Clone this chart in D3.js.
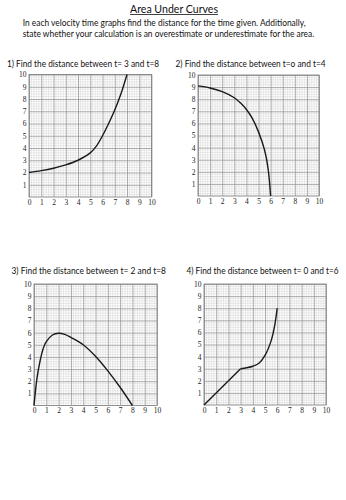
<!DOCTYPE html>
<html><head><meta charset="utf-8">
<script src="https://cdn.jsdelivr.net/npm/d3@7"></script>
<style>
html,body{margin:0;padding:0;background:#fff;}
svg{display:block;}
</style>
</head><body>
<svg id="c" width="346" height="500"></svg>
<script>
// ---- data ----
const titleText = "Area Under Curves";
const introLines = [
  "In each velocity time graphs find the distance for the time given. Additionally,",
  "state whether your calculation is an overestimate or underestimate for the area."
];
const questions = [
  "1) Find the distance between t= 3 and t=8",
  "2) Find the distance between t=o and t=4",
  "3) Find the distance between t= 2 and t=8",
  "4) Find the distance between t= 0 and t=6"
];
const xTicks = [0,1,2,3,4,5,6,7,8,9,10];
const yTicks = [1,2,3,4,5,6,7,8,9,10];

const curve1T = [0, 1, 2, 3, 4, 5, 5.5, 6, 6.5, 7, 7.5, 8];
const curve1V = [2, 2.15, 2.35, 2.62, 3.0, 3.6, 4.15, 5.0, 6.0, 7.1, 8.4, 10];

const curve2T = [0, 1, 2, 3, 3.5, 4, 4.5, 5, 5.5, 5.8, 6];
const curve2V = [9.1, 8.93, 8.62, 8.12, 7.7, 7.15, 6.4, 5.3, 3.8, 2.2, 0];

const curve3T = [0, 0.25, 0.5, 0.75, 1, 1.5, 2, 2.5, 3, 4, 5, 6, 7, 8];
const curve3V = [0, 2.3, 3.7, 4.7, 5.25, 5.8, 5.95, 5.85, 5.6, 5.0, 4.05, 2.85, 1.5, 0];

const curve4T = [0, 3, 3.5, 4, 4.5, 5, 5.5, 5.8, 6];
const curve4V = [0, 3, 3.08, 3.2, 3.45, 4.1, 5.3, 6.6, 8];

// ---- layout ----
const panels = [
  {x:29,  y:74.5, w:122.5, h:122.5, q:questions[0], qx:7,   qy:67, qw:152, t:curve1T, v:curve1V, straight:0},
  {x:198, y:75,   w:121,   h:121,   q:questions[1], qx:175.5, qy:67, qw:150, t:curve2T, v:curve2V, straight:0},
  {x:34,  y:284,  w:123,   h:121.5, q:questions[2], qx:11.5, qy:274, qw:154.5, t:curve3T, v:curve3V, straight:0},
  {x:204, y:284,  w:122,   h:121,   q:questions[3], qx:186.5, qy:274, qw:152, t:curve4T, v:curve4V, straight:1}
];

const svg = d3.select("#c");
const textFont = "Lato, 'Open Sans', sans-serif";
const tickFont = "'Liberation Serif', serif";

// title
svg.append("text").attr("x",174).attr("y",12.5)
  .attr("text-anchor","middle").attr("font-family",textFont).attr("font-size",11.5)
  .attr("fill","#111").attr("textLength",88).attr("lengthAdjust","spacingAndGlyphs")
  .text(titleText);
svg.append("line").attr("x1",130).attr("x2",218).attr("y1",14.5).attr("y2",14.5)
  .attr("stroke","#111").attr("stroke-width",0.8);

// intro lines
const introW = [283, 291.5];
introLines.forEach((s,i)=>{
  svg.append("text").attr("x",22.7).attr("y",26 + i*11)
    .attr("font-family",textFont).attr("font-size",8.6).attr("fill","#111")
    .attr("textLength",introW[i]).attr("lengthAdjust","spacingAndGlyphs")
    .text(s);
});

panels.forEach(p=>{
  const xs = d3.scaleLinear().domain([0,10]).range([p.x, p.x+p.w]);
  const ys = d3.scaleLinear().domain([0,10]).range([p.y+p.h, p.y]);
  const g = svg.append("g");

  // question label
  g.append("text").attr("x",p.qx).attr("y",p.qy)
    .attr("font-family",textFont).attr("font-size",8.6).attr("fill","#111")
    .attr("textLength",p.qw).attr("lengthAdjust","spacingAndGlyphs")
    .text(p.q);

  // minor grid
  const minor = d3.range(0,10.001,0.2).filter(d=>Math.abs(d-Math.round(d))>1e-6);
  g.append("g").selectAll("line").data(minor).join("line")
    .attr("x1",d=>xs(d)).attr("x2",d=>xs(d)).attr("y1",p.y).attr("y2",p.y+p.h)
    .attr("stroke","#d4d4d4").attr("stroke-width",0.5);
  g.append("g").selectAll("line").data(minor).join("line")
    .attr("y1",d=>ys(d)).attr("y2",d=>ys(d)).attr("x1",p.x).attr("x2",p.x+p.w)
    .attr("stroke","#d4d4d4").attr("stroke-width",0.5);

  // major grid via axes
  const gx = g.append("g").attr("transform",`translate(0,${p.y+p.h})`)
    .call(d3.axisBottom(xs).tickValues(xTicks).tickSize(-p.h).tickPadding(2.5).tickFormat(d3.format("d")));
  const gy = g.append("g").attr("transform",`translate(${p.x},0)`)
    .call(d3.axisLeft(ys).tickValues(yTicks).tickSize(-p.w).tickPadding(2.5).tickFormat(d3.format("d")));
  [gx,gy].forEach(a=>{
    a.select(".domain").remove();
    a.selectAll(".tick line").attr("stroke","#8a8a8a").attr("stroke-width",0.7);
    a.selectAll(".tick text").attr("font-family",tickFont).attr("font-size",7.5).attr("fill","#222");
  });
  // border
  g.append("rect").attr("x",p.x).attr("y",p.y).attr("width",p.w).attr("height",p.h)
    .attr("fill","none").attr("stroke","#777").attr("stroke-width",0.8);

  // curve
  const pts = p.t.map((t,i)=>[t,p.v[i]]);
  const lin = d3.line().x(d=>xs(d[0])).y(d=>ys(d[1]));
  const smoothLine = d3.line().x(d=>xs(d[0])).y(d=>ys(d[1])).curve(d3.curveCatmullRom.alpha(0.5));
  if (p.straight) {
    g.append("path").attr("d", lin(pts.slice(0, p.straight+1)))
      .attr("fill","none").attr("stroke","#1a1a1a").attr("stroke-width",1.4);
  }
  g.append("path").attr("d", smoothLine(pts.slice(p.straight)))
    .attr("fill","none").attr("stroke","#1a1a1a").attr("stroke-width",1.4);
});
</script>
</body></html>
